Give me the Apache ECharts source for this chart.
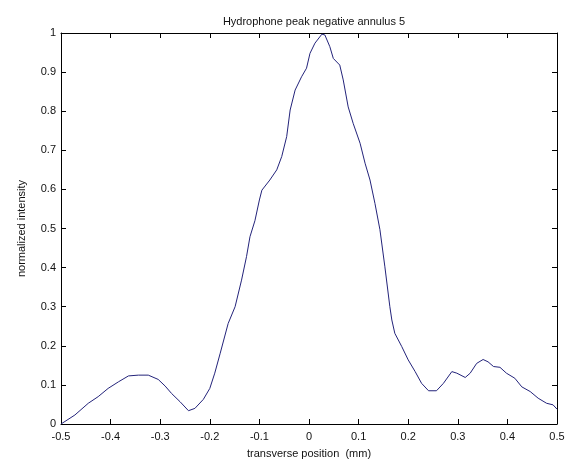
<!DOCTYPE html>
<html>
<head>
<meta charset="utf-8">
<title>Hydrophone peak negative annulus 5</title>
<script src="https://cdn.jsdelivr.net/npm/echarts@6/dist/echarts.min.js"></script>
<style>
    html, body { margin: 0; padding: 0; background: #fff; }
    #main { width: 569px; height: 472px; }
</style>
</head>
<body>
<div id="main"></div>
<script>
    // transverse position (mm)
    var positions = [
        -0.5, -0.472, -0.445, -0.425, -0.405, -0.384, -0.364, -0.344, -0.324, -0.304,
        -0.29, -0.277, -0.26, -0.243, -0.23, -0.213, -0.2, -0.19, -0.179, -0.163,
        -0.149, -0.136, -0.126, -0.119, -0.109, -0.1, -0.095, -0.079, -0.065, -0.055,
        -0.045, -0.038, -0.028, -0.015, -0.005, 0.002, 0.012, 0.026, 0.032, 0.042,
        0.049, 0.062, 0.069, 0.079, 0.089, 0.103, 0.113, 0.123, 0.133, 0.143,
        0.153, 0.163, 0.167, 0.173, 0.187, 0.2, 0.214, 0.227, 0.241, 0.257,
        0.271, 0.288, 0.298, 0.315, 0.325, 0.338, 0.351, 0.361, 0.372, 0.385,
        0.398, 0.415, 0.429, 0.446, 0.462, 0.479, 0.492, 0.5
    ]
    // normalized intensity at each position
    var intensity = [
        0.0, 0.023, 0.053, 0.07, 0.091, 0.108, 0.123, 0.125, 0.125, 0.114,
        0.097, 0.078, 0.057, 0.034, 0.04, 0.063, 0.091, 0.13, 0.181, 0.257,
        0.30, 0.368, 0.428, 0.479, 0.52, 0.573, 0.598, 0.624, 0.65, 0.684,
        0.735, 0.803, 0.854, 0.888, 0.91, 0.948, 0.974, 0.997, 0.995, 0.965,
        0.935, 0.918, 0.88, 0.811, 0.769, 0.718, 0.667, 0.624, 0.564, 0.497,
        0.402, 0.30, 0.266, 0.232, 0.198, 0.164, 0.134, 0.104, 0.085, 0.085,
        0.104, 0.134, 0.13, 0.119, 0.13, 0.155, 0.165, 0.159, 0.147, 0.145,
        0.13, 0.117, 0.095, 0.083, 0.066, 0.053, 0.049, 0.038
    ]

    var points = positions.map(function (x, i) { return [x, intensity[i]] })

    var font = 'Liberation Sans, Arial, sans-serif'
    var fmt = function (v) { return String(Math.round(v * 10) / 10) }

    // matlab style box: inward ticks on all four sides
    function boxAxis(pos, extra) {
        var ax = {
            type: 'value',
            position: pos,
            axisLine: { show: true, onZero: false, lineStyle: { color: '#000', width: 1 } },
            axisTick: { show: true, inside: true, length: 5, lineStyle: { color: '#000' } },
            splitLine: { show: false },
            axisLabel: { show: false }
        }
        return Object.assign(ax, extra)
    }

    var chart = echarts.init(document.getElementById('main'))
    chart.setOption({
        animation: false,
        backgroundColor: '#fff',
        title: {
            text: 'Hydrophone peak negative annulus 5',
            left: 309,
            top: 11,
            textAlign: 'center',
            textStyle: { fontSize: 11, fontWeight: 'normal', color: '#111', fontFamily: font }
        },
        grid: { left: 61, right: 12, top: 33, bottom: 48 },
        xAxis: [
            boxAxis('bottom', {
                min: -0.5, max: 0.5, interval: 0.1,
                name: 'transverse position  (mm)',
                nameLocation: 'middle',
                nameGap: 24,
                nameTextStyle: { fontSize: 11, color: '#111', fontFamily: font },
                axisLabel: { show: true, margin: 7, fontSize: 11, color: '#111', fontFamily: font, formatter: fmt }
            }),
            boxAxis('top', { min: -0.5, max: 0.5, interval: 0.1 })
        ],
        yAxis: [
            boxAxis('left', {
                min: 0, max: 1, interval: 0.1,
                name: 'normalized intensity',
                nameLocation: 'middle',
                nameGap: 34,
                nameTextStyle: { fontSize: 11, color: '#111', fontFamily: font },
                axisLabel: { show: true, margin: 5, fontSize: 11, color: '#111', fontFamily: font, formatter: fmt }
            }),
            boxAxis('right', { min: 0, max: 1, interval: 0.1 })
        ],
        series: [{
            type: 'line',
            data: points,
            showSymbol: false,
            color: '#23237a',
            lineStyle: { width: 1, color: '#23237a' }
        }]
    })
</script>
</body>
</html>
